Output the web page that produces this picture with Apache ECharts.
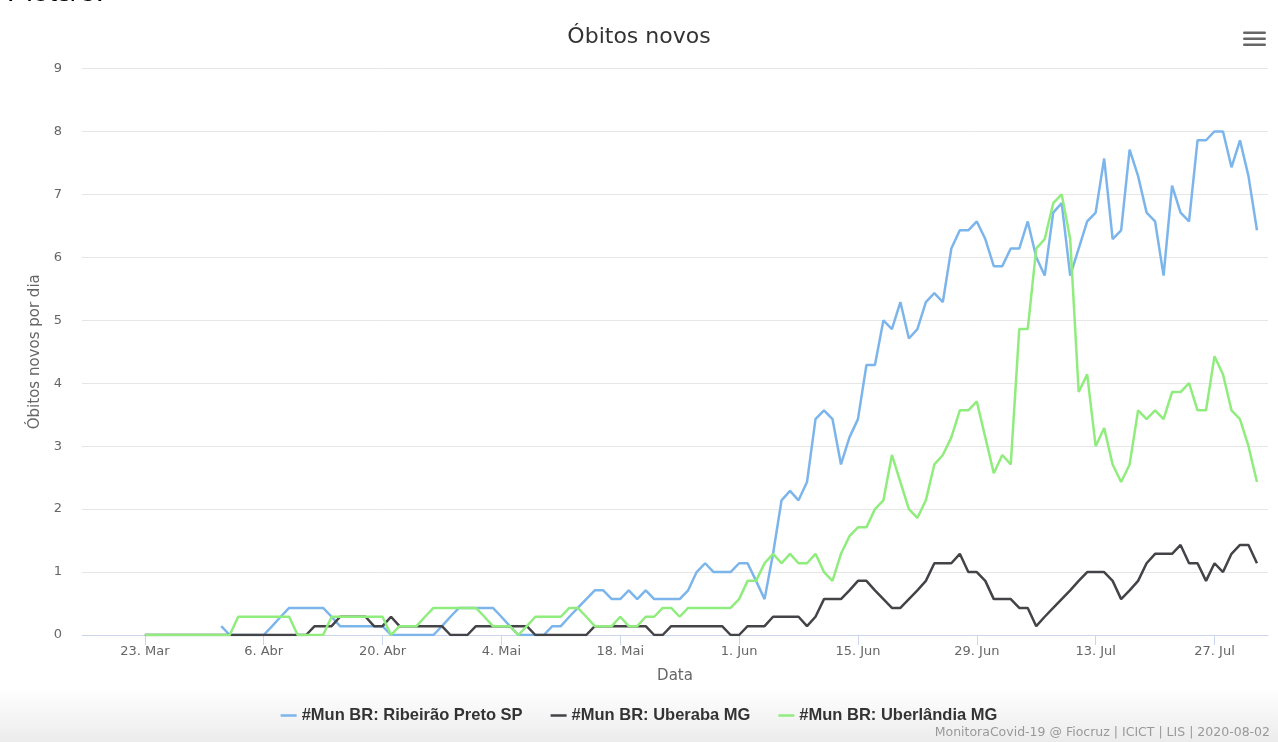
<!DOCTYPE html>
<html>
<head>
<meta charset="utf-8">
<script src="https://cdn.jsdelivr.net/npm/echarts@6/dist/echarts.min.js"></script>
<style>
html,body{margin:0;padding:0;background:#fff;}
#chart{width:1278px;height:742px;}
</style>
</head>
<body>
<div id="chart"></div>
<script>
// Days since 23 Mar 2020 (day 0) up to 1 Aug 2020 (day 131)
const tickLabels = ['23. Mar','6. Abr','20. Abr','4. Mai','18. Mai','1. Jun','15. Jun','29. Jun','13. Jul','27. Jul'];
const tickDays = [0,14,28,42,56,70,84,98,112,126];

const seriesNames = ['#Mun BR: Ribeirão Preto SP', '#Mun BR: Uberaba MG', '#Mun BR: Uberlândia MG'];

// Ribeirão Preto SP (nulls before first value)
const ribeiraoPreto = [
  null,null,null,null,null,null,null,null,null,0.14,
  0,0,0,0,0,0.14,0.29,0.43,0.43,0.43,
  0.43,0.43,0.29,0.14,0.14,0.14,0.14,0.14,0.14,0,
  0,0,0,0,0,0.14,0.29,0.43,0.43,0.43,
  0.43,0.43,0.29,0.14,0,0,0,0,0.14,0.14,
  0.29,0.43,0.57,0.71,0.71,0.57,0.57,0.71,0.57,0.71,
  0.57,0.57,0.57,0.57,0.71,1.0,1.14,1.0,1.0,1.0,
  1.14,1.14,0.86,0.57,1.29,2.14,2.29,2.14,2.43,3.43,
  3.57,3.43,2.71,3.14,3.43,4.29,4.29,5.0,4.86,5.29,
  4.71,4.86,5.29,5.43,5.29,6.14,6.43,6.43,6.57,6.29,
  5.86,5.86,6.14,6.14,6.57,6.0,5.71,6.71,6.86,5.71,
  6.14,6.57,6.71,7.57,6.29,6.43,7.71,7.29,6.71,6.57,
  5.71,7.14,6.71,6.57,7.86,7.86,8.0,8.0,7.43,7.86,
  7.29,6.43
];

// Uberaba MG
const uberaba = [
  0,0,0,0,0,0,0,0,0,0,
  0,0,0,0,0,0,0,0,0,0,
  0.14,0.14,0.14,0.29,0.29,0.29,0.29,0.14,0.14,0.29,
  0.14,0.14,0.14,0.14,0.14,0.14,0,0,0,0.14,
  0.14,0.14,0.14,0.14,0.14,0.14,0,0,0,0,
  0,0,0,0.14,0.14,0.14,0.14,0.14,0.14,0.14,
  0,0,0.14,0.14,0.14,0.14,0.14,0.14,0.14,0,
  0,0.14,0.14,0.14,0.29,0.29,0.29,0.29,0.14,0.29,
  0.57,0.57,0.57,0.71,0.86,0.86,0.71,0.57,0.43,0.43,
  0.57,0.71,0.86,1.14,1.14,1.14,1.29,1.0,1.0,0.86,
  0.57,0.57,0.57,0.43,0.43,0.14,0.29,0.43,0.57,0.71,
  0.86,1.0,1.0,1.0,0.86,0.57,0.71,0.86,1.14,1.29,
  1.29,1.29,1.43,1.14,1.14,0.86,1.14,1.0,1.29,1.43,
  1.43,1.14
];

// Uberlândia MG
const uberlandia = [
  0,0,0,0,0,0,0,0,0,0,
  0,0.29,0.29,0.29,0.29,0.29,0.29,0.29,0,0,
  0,0,0.29,0.29,0.29,0.29,0.29,0.29,0.29,0,
  0.14,0.14,0.14,0.29,0.43,0.43,0.43,0.43,0.43,0.43,
  0.29,0.14,0.14,0.14,0,0.14,0.29,0.29,0.29,0.29,
  0.43,0.43,0.29,0.14,0.14,0.14,0.29,0.14,0.14,0.29,
  0.29,0.43,0.43,0.29,0.43,0.43,0.43,0.43,0.43,0.43,
  0.57,0.86,0.86,1.14,1.29,1.14,1.29,1.14,1.14,1.29,
  1.0,0.86,1.29,1.57,1.71,1.71,2.0,2.14,2.86,2.43,
  2.0,1.86,2.14,2.71,2.86,3.14,3.57,3.57,3.71,3.14,
  2.57,2.86,2.71,4.86,4.86,6.14,6.29,6.86,7.0,6.29,
  3.86,4.14,3.0,3.29,2.71,2.43,2.71,3.57,3.43,3.57,
  3.43,3.86,3.86,4.0,3.57,3.57,4.43,4.14,3.57,3.43,
  3.0,2.43
];

const colors = ['#7cb5ec', '#434348', '#90ed7d'];
const FONT = "'DejaVu Sans', 'Open Sans', sans-serif";

function toPairs(arr){ return arr.map((v,i)=>[i, v]); }

const chart = echarts.init(document.getElementById('chart'));
chart.setOption({
  animation: false,
  color: colors,
  textStyle: { fontFamily: FONT },
  title: {
    text: 'Óbitos novos',
    left: 'center',
    top: 21,
    textStyle: { fontFamily: FONT, fontSize: 22, fontWeight: 'normal', color: '#333333' }
  },
  legend: {
    bottom: 13,
    left: 'center',
    icon: 'rect',
    itemWidth: 16,
    itemHeight: 2.5,
    itemGap: 28,
    textStyle: { fontFamily: "'Liberation Sans', Arial, sans-serif", fontSize: 16.5, fontWeight: 'bold', color: '#333333' },
    data: seriesNames
  },
  grid: { left: 82, right: 10, top: 68.5, bottom: 107, containLabel: false },
  xAxis: {
    type: 'value',
    min: -7.4,
    max: 132.3,
    name: 'Data',
    nameLocation: 'middle',
    nameGap: 34,
    nameTextStyle: { fontFamily: FONT, fontSize: 15, color: '#666666' },
    axisLine: { show: true, lineStyle: { color: '#ccd6eb', width: 1 } },
    axisTick: { show: true, customValues: tickDays, length: 10, lineStyle: { color: '#ccd6eb' } },
    axisLabel: {
      customValues: tickDays,
      color: '#666666', fontSize: 13, fontFamily: FONT, margin: 10,
      formatter: function(v){ const i = tickDays.indexOf(Math.round(v)); return i >= 0 ? tickLabels[i] : ''; }
    },
    splitLine: { show: false }
  },
  yAxis: {
    type: 'value',
    min: 0, max: 9, interval: 1,
    name: 'Óbitos novos por dia',
    nameLocation: 'middle',
    nameGap: 39,
    nameRotate: 90,
    nameTextStyle: { fontFamily: FONT, fontSize: 15, color: '#666666' },
    axisLine: { show: false },
    axisTick: { show: false },
    axisLabel: { color: '#666666', fontSize: 13, fontFamily: FONT, margin: 20 },
    splitLine: { lineStyle: { color: '#e6e6e6', width: 1 } }
  },
  series: [
    { name: seriesNames[0], type: 'line', data: toPairs(ribeiraoPreto), symbol: 'none', connectNulls: false, lineStyle: { width: 2.5 } },
    { name: seriesNames[1], type: 'line', data: toPairs(uberaba), symbol: 'none', lineStyle: { width: 2.5 } },
    { name: seriesNames[2], type: 'line', data: toPairs(uberlandia), symbol: 'none', lineStyle: { width: 2.5 } }
  ],
  graphic: [
    { type: 'rect', left: 0, top: 688, z: -10, silent: true,
      shape: { width: 1278, height: 54 },
      style: { fill: new echarts.graphic.LinearGradient(0,0,0,1,[{offset:0,color:'#ffffff'},{offset:1,color:'#ececec'}]) } },
    { type: 'text', left: 7, top: -22, silent: true,
      style: { text: 'Plots/3:', font: "29px 'Liberation Sans', Arial, sans-serif", fill: '#000000' } },
    { type: 'rect', left: 1243, top: 31.5, silent: true, shape: { width: 23, height: 2.6, r: 1.3 }, style: { fill: '#666666' } },
    { type: 'rect', left: 1243, top: 37.5, silent: true, shape: { width: 23, height: 2.6, r: 1.3 }, style: { fill: '#666666' } },
    { type: 'rect', left: 1243, top: 43.5, silent: true, shape: { width: 23, height: 2.6, r: 1.3 }, style: { fill: '#666666' } },
    { type: 'text', right: 8, bottom: 3, silent: true,
      style: { text: 'MonitoraCovid-19 @ Fiocruz | ICICT | LIS | 2020-08-02', font: "12.5px 'DejaVu Sans', sans-serif", fill: '#999999' } }
  ]
});
</script>
</body>
</html>
